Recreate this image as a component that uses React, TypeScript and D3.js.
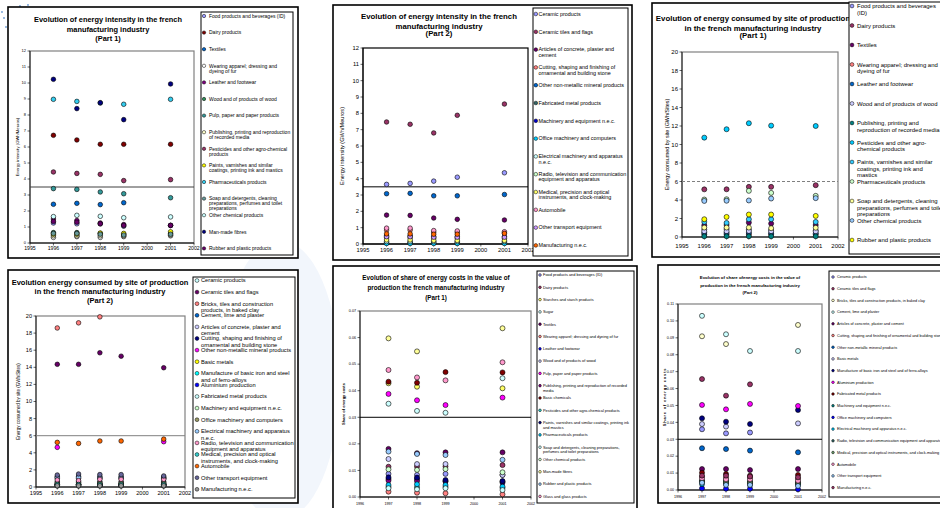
import React from "react";
import * as d3 from "d3";

// ---------------- DATA ----------------
const yearsA = [1996, 1997, 1998, 1999, 2001];
const yearsB = [1997, 1998, 1999, 2001];

const p1Names = [
  "Food products and beverages (ID)",
  "Dairy products",
  "Textiles",
  "Wearing apparel; dressing and dyeing of fur",
  "Leather and footwear",
  "Wood and of products of wood",
  "Pulp, paper and paper products",
  "Publishing, printing and reproduction of recorded media",
  "Pesticides and other agro-chemical products",
  "Paints, varnishes and similar coatings, printing ink and mastics",
  "Pharmaceuticals products",
  "Soap and detergents, cleaning preparations, perfumes and toilet preparations",
  "Other chemical products",
  "Man-made fibres",
  "Rubber and plastic products",
];
const p1Values: (number | null)[][] = [
  [1.25, 1.2, 1.2, 1.05, 1.1],
  [6.73, 6.44, 6.17, 6.17, 6.17],
  [2.42, 2.48, 2.4, 2.52, null],
  [0.35, 0.4, 0.35, 0.4, 0.45],
  [1.5, 1.4, 1.25, 1.15, 1.1],
  [0.65, 0.65, 0.6, 0.55, 0.6],
  [3.4, 3.35, 3.19, 3.08, 2.83],
  [0.45, 0.45, 0.45, 0.45, 0.5],
  [4.44, 4.35, 4.29, 3.9, 3.96],
  [0.55, 0.55, 0.62, 0.6, 0.7],
  [8.98, 8.85, 8.75, 8.67, 8.98],
  [0.6, 0.6, 0.55, 0.5, 0.55],
  [1.65, 1.73, 1.67, 1.58, 1.63],
  [10.23, 8.4, 8.77, 7.71, 9.94],
  [1.35, 1.3, 1.2, 1.1, 1.1],
];
const p1Colors = ["#9999FF", "#800000", "#0066CC", "#FFFFFF", "#800080", "#2E8B57", "#339999", "#FFFFCC", "#993366", "#FFFF00", "#33CCEE", "#669999", "#CCFFFF", "#000080", "#660066"];

const p2Names = [
  "Ceramic products",
  "Ceramic tiles and flags",
  "Articles of concrete, plaster and cement",
  "Cutting, shaping and finishing of ornamental and building stone",
  "Other non-metallic mineral products",
  "Fabricated metal products",
  "Machinery and equipment n.e.c.",
  "Office machinery and computers",
  "Electrical machinery and apparatus n.e.c.",
  "Radio, television and communication equipment and apparatus",
  "Medical, precision and optical instruments, and clock-making",
  "Automobile",
  "Other transport equipment",
  "Manufacturing n.e.c.",
];
const p2Values: (number | null)[][] = [
  [3.65, 3.71, 3.85, 4.09, 4.36],
  [7.47, 7.33, 6.8, 7.88, 8.57],
  [1.77, 1.75, 1.59, 1.51, 1.47],
  [0.85, 0.85, 0.72, 0.72, 0.68],
  [3.08, 3.1, 2.95, 2.95, 3.03],
  [0.1, 0.1, 0.1, 0.1, 0.1],
  [0.5, 0.5, 0.45, 0.45, 0.45],
  [0.03, 0.03, 0.03, 0.03, 0.03],
  [0.15, 0.15, 0.15, 0.15, 0.15],
  [0.38, 0.38, 0.35, 0.35, 0.35],
  [0.25, 0.25, 0.22, 0.22, 0.22],
  [0.97, 0.97, 0.82, 0.8, 0.75],
  [0.45, 0.45, 0.42, 0.42, 0.42],
  [0.62, 0.62, 0.6, 0.6, 0.65],
];
const p2Colors = ["#9999FF", "#993366", "#660066", "#FF8080", "#0066CC", "#336666", "#0000CC", "#00CCFF", "#CCFFFF", "#CCFFCC", "#FFFF66", "#FF99CC", "#CC99FF", "#FF6600"];

const p3Names = [
  "Food products and beverages (ID)",
  "Dairy products",
  "Textiles",
  "Wearing apparel; dressing and dyeing of fur",
  "Leather and footwear",
  "Wood and of products of wood",
  "Publishing, printing and reproduction of recorded media",
  "Pesticides and other agro-chemical products",
  "Paints, varnishes and similar coatings, printing ink and mastics",
  "Pharmaceuticals products",
  "Soap and detergents, cleaning preparations, perfumes and toilet preparations",
  "Other chemical products",
  "Rubber and plastic products",
];
const p3Values: (number | null)[][] = [
  [0.8, 0.85, 0.8, 0.75, 0.7],
  [5.15, 5.16, 5.42, 5.42, 5.6],
  [1.27, 1.3, 1.56, 1.45, 1.3],
  [0.3, 0.3, 0.3, 0.3, 0.3],
  [0.45, 0.45, 0.45, 0.4, 0.4],
  [0.62, 0.62, 0.65, 0.62, 0.6],
  [0.08, 0.08, 0.08, 0.08, 0.08],
  [10.74, 11.65, 12.3, 12.04, 12.0],
  [1.63, 1.52, 1.92, 1.92, 1.63],
  [4.05, 4.08, 4.99, 4.77, 4.45],
  [1.02, 1.02, 1.02, 0.95, 1.0],
  [3.9, 3.92, 3.95, 4.16, 4.2],
  [1.92, 2.17, 2.43, 2.43, 2.28],
];
const p3Colors = ["#9999FF", "#993366", "#660066", "#FF8080", "#0066CC", "#CCCCFF", "#008080", "#00CCFF", "#33CCFF", "#CCFFCC", "#FFFF99", "#99CCFF", "#FFFF00"];

const part2Names = [
  "Ceramic products",
  "Ceramic tiles and flags",
  "Bricks, tiles and construction products, in baked clay",
  "Cement, lime and plaster",
  "Articles of concrete, plaster and cement",
  "Cutting, shaping and finishing of ornamental and building stone",
  "Other non-metallic mineral products",
  "Basic metals",
  "Manufacture of basic iron and steel and of ferro-alloys",
  "Aluminium production",
  "Fabricated metal products",
  "Machinery and equipment n.e.c.",
  "Office machinery and computers",
  "Electrical machinery and apparatus n.e.c.",
  "Radio, television and communication equipment and apparatus",
  "Medical, precision and optical instruments, and clock-making",
  "Automobile",
  "Other transport equipment",
  "Manufacturing n.e.c.",
];
const p4Values: (number | null)[][] = [
  [0.3, 0.3, 0.3, 0.3, 0.3],
  [14.35, 14.35, 15.7, 15.3, 13.95],
  [18.6, 19.2, 19.9, null, null],
  [1.2, 1.25, 1.2, 1.2, 1.15],
  [1.0, 1.0, 1.0, 1.0, 1.0],
  [0.6, 0.6, 0.6, 0.6, 0.6],
  [4.64, null, null, null, 5.3],
  [0.35, 0.35, 0.35, 0.35, 0.35],
  [0.25, 0.25, 0.25, 0.25, 0.25],
  [0.2, 0.2, 0.2, 0.2, 0.2],
  [0.12, 0.12, 0.12, 0.12, 0.12],
  [0.3, 0.3, 0.3, 0.3, 0.3],
  [0.5, 0.5, 0.5, 0.5, 0.5],
  [1.13, 1.13, 1.1, 1.1, 1.05],
  [0.82, 0.74, 0.9, 0.9, 0.9],
  [0.3, 0.3, 0.3, 0.3, 0.3],
  [5.22, 5.1, 5.38, 5.38, 5.6],
  [1.4, 1.52, 1.45, 1.45, 1.29],
  [0.15, 0.15, 0.15, 0.15, 0.15],
];
const p4Colors = ["#CCFFFF", "#660066", "#FF8080", "#0066CC", "#CCCCFF", "#000080", "#FF00FF", "#FFFF00", "#00FFFF", "#0000FF", "#CCFFFF", "#CCFFCC", "#999966", "#99CCFF", "#FF99CC", "#33CCCC", "#FF6600", "#666699", "#969696"];

const p5Names = [
  "Food products and beverages (ID)",
  "Dairy products",
  "Starches and starch products",
  "Sugar",
  "Textiles",
  "Wearing apparel; dressing and dyeing of fur",
  "Leather and footwear",
  "Wood and of products of wood",
  "Pulp, paper and paper products",
  "Publishing, printing and reproduction of recorded media",
  "Basic chemicals",
  "Pesticides and other agro-chemical products",
  "Paints, varnishes and similar coatings, printing ink and mastics",
  "Pharmaceuticals products",
  "Soap and detergents, cleaning preparations, perfumes and toilet preparations",
  "Other chemical products",
  "Man-made fibres",
  "Rubber and plastic products",
  "Glass and glass products",
];
const p5Values: (number | null)[][] = [
  [0.0087, 0.0083, 0.0087, 0.0083],
  [0.0114, 0.0115, 0.0115, 0.012],
  [0.0428, 0.0415, null, 0.0409],
  [0.0351, 0.0324, 0.0317, 0.0447],
  [0.0181, 0.0165, 0.0168, 0.0168],
  [0.002, 0.0016, 0.0014, 0.001],
  [0.0068, 0.0068, 0.0058, 0.0054],
  [0.0143, 0.0124, 0.0124, 0.0083],
  [0.0388, 0.0364, 0.0346, 0.0374],
  [0.0062, 0.006, 0.006, 0.0058],
  [0.0434, 0.043, 0.047, 0.0469],
  [0.0038, 0.0037, 0.0038, 0.0034],
  [0.0074, 0.0073, 0.0064, 0.006],
  [0.0045, 0.0048, 0.0045, 0.0039],
  [0.0033, 0.0029, 0.0033, 0.0026],
  [0.0104, 0.0102, 0.0105, 0.0093],
  [0.0597, 0.0548, null, 0.0635],
  [0.0171, 0.0162, 0.0158, 0.014],
  [0.0478, 0.045, 0.0439, 0.0507],
];
const p5Colors = ["#9999FF", "#993366", "#FFFF66", "#CCFFFF", "#660066", "#FF8080", "#0000FF", "#CCCCFF", "#FF00FF", "#800080", "#800000", "#33CCCC", "#000080", "#00CCFF", "#CCFFFF", "#CCFFCC", "#FFFF99", "#99CCFF", "#FF99CC"];

const p6Values: (number | null)[][] = [
  [0.0359, 0.0335, 0.034, null],
  [0.0656, 0.0558, 0.0625, null],
  [0.0909, 0.0863, null, 0.0976],
  [0.103, 0.0921, 0.0822, 0.0822],
  [0.0124, 0.0124, 0.0118, 0.0124],
  [0.0078, 0.0072, 0.0072, 0.0066],
  [0.0247, 0.0242, 0.0233, 0.0223],
  [0.039, 0.0375, null, 0.0394],
  [0.0424, 0.0404, 0.039, 0.0473],
  [0.0503, 0.0477, 0.0509, 0.0497],
  [0.0102, 0.0095, 0.0085, 0.0089],
  [0.0055, 0.0055, 0.005, 0.0045],
  [0.001, 0.0008, 0.0008, 0.0004],
  [0.0035, 0.0035, 0.003, 0.003],
  [0.0048, 0.0045, 0.0042, 0.004],
  [0.0052, 0.005, 0.0046, 0.0043],
  [0.0069, 0.0063, 0.0063, 0.0055],
  [0.0043, 0.003, 0.003, 0.0024],
  [0.0085, 0.0085, 0.008, 0.0075],
];
const p6Colors = ["#9999FF", "#993366", "#FFFFCC", "#CCFFFF", "#660066", "#FF8080", "#0066CC", "#CCCCFF", "#000080", "#FF00FF", "#800000", "#008080", "#0000FF", "#00CCFF", "#336666", "#669966", "#FF99CC", "#99CCFF", "#993366"];

const intensityTicks = d3.range(0, 13, 1);
const siteTicks = d3.range(0, 21, 2);
const share1Ticks = d3.range(0, 0.0701, 0.01);
const share2Ticks = d3.range(0, 0.1101, 0.01);
const yearTicksA = d3.range(1995, 2003, 1);
const yearTicksB = d3.range(1996, 2003, 1);

// ---------------- HELPERS ----------------
const FONT = '"Liberation Sans", Arial, Helvetica, sans-serif';
let ctx: CanvasRenderingContext2D | null = null;
function measure(s: string, size: number, bold = false) {
  if (!ctx) ctx = document.createElement("canvas").getContext("2d");
  if (!ctx) return s.length * size * 0.5;
  ctx.font = `${bold ? "bold " : ""}${size}px ${FONT}`;
  return ctx.measureText(s).width;
}
function wrap(s: string, size: number, width: number) {
  const toks: { t: string; sp: boolean }[] = [];
  s.split(" ").forEach((w, wi) => {
    const parts = w.split(/(?<=-)/);
    parts.forEach((p, pi) => toks.push({ t: p, sp: pi === 0 && wi > 0 }));
  });
  const lines: string[] = [];
  let cur = "";
  for (const tk of toks) {
    const t = cur ? cur + (tk.sp ? " " : "") + tk.t : tk.t;
    if (cur && measure(t, size) > width) {
      lines.push(cur);
      cur = tk.t;
    } else cur = t;
  }
  if (cur) lines.push(cur);
  return lines;
}

type Cfg = {
  box: [number, number, number, number];
  plot: [number, number, number, number];
  xDomain: [number, number];
  xTicks: number[];
  yDomain: [number, number];
  yTicks: number[];
  yFmt: (v: number) => string;
  ref: number;
  refDashed?: boolean;
  refColor: string;
  title: string[];
  titleX: number;
  titleY: number[];
  titleSize: number;
  yLabel: string;
  yLabelX: number;
  yLabelSize: number;
  yLabelBold?: boolean;
  yLabelSpacing?: number;
  yTickSize: number;
  xTickSize: number;
  xLabelY: number;
  legend: [number, number, number, number];
  legStart: number;
  legStep: number;
  legSize: number;
  legWrapEm: number;
  legLine: number;
  legMarkerX: number;
  legTextX: number;
  markerR: number;
  frameColor: string;
  names: string[];
  values: (number | null)[][];
  colors: string[];
  years: number[];
};

function Panel({ c }: { c: Cfg }) {
  const [px, py, pw, ph] = c.plot;
  const x = d3.scaleLinear().domain(c.xDomain).range([px, px + pw]);
  const y = d3.scaleLinear().domain(c.yDomain).range([py + ph, py]);
  const [lx, ly, lw, lh] = c.legend;
  const yMid = py + ph / 2;
  return (
    <g fontFamily={FONT}>
      <rect x={c.box[0]} y={c.box[1]} width={c.box[2]} height={c.box[3]} fill="white" stroke="#000" strokeWidth={1.6} />
      {c.title.map((t, i) => (
        <text key={i} x={c.titleX} y={c.titleY[i]} fontSize={c.titleSize} fontWeight="bold" textAnchor="middle" fill="#000">
          {t}
        </text>
      ))}
      <rect x={px} y={py} width={pw} height={ph} fill="white" stroke={c.frameColor} strokeWidth={1.2} />
      <line x1={px} x2={px} y1={py} y2={py + ph} stroke="#000" strokeWidth={0.8} />
      {c.yTicks.map((t, i) => (
        <g key={i}>
          <line x1={px - 2.5} x2={px} y1={y(t)} y2={y(t)} stroke="#000" strokeWidth={0.6} />
          <text x={px - 4} y={y(t) + c.yTickSize * 0.35} fontSize={c.yTickSize} textAnchor="end" fill="#000">
            {c.yFmt(t)}
          </text>
        </g>
      ))}
      <line x1={px} x2={px + pw} y1={py + ph} y2={py + ph} stroke="#000" strokeWidth={1} />
      {c.xTicks.map((t, i) => (
        <g key={i}>
          <line x1={x(t)} x2={x(t)} y1={py + ph} y2={py + ph + 2.5} stroke="#000" strokeWidth={0.6} />
          <text x={x(t)} y={c.xLabelY} fontSize={c.xTickSize} textAnchor="middle" fill="#000">
            {t}
          </text>
        </g>
      ))}
      <text
        transform={`translate(${c.yLabelX},${yMid}) rotate(-90)`}
        fontSize={c.yLabelSize}
        fontWeight={c.yLabelBold ? "bold" : "normal"}
        letterSpacing={c.yLabelSpacing || 0}
        textAnchor="middle"
        fill="#000"
      >
        {c.yLabel}
      </text>
      <line
        x1={px}
        x2={px + pw}
        y1={y(c.ref)}
        y2={y(c.ref)}
        stroke={c.refColor}
        strokeWidth={c.refDashed ? 1.2 : 1}
        strokeDasharray={c.refDashed ? "3,2" : undefined}
      />
      {c.values.map((vals, si) =>
        vals.map((v, yi) =>
          v == null ? null : (
            <circle key={`${si}-${yi}`} cx={x(c.years[yi])} cy={y(v)} r={c.markerR} fill={c.colors[si]} stroke="#000" strokeWidth={0.6} />
          )
        )
      )}
      <rect x={lx} y={ly} width={lw} height={lh} fill="white" stroke="#000" strokeWidth={1} />
      {c.names.map((n, i) => {
        const cy = c.legStart + i * c.legStep;
        const lines = wrap(n, c.legSize, c.legWrapEm * c.legSize);
        return (
          <g key={i}>
            <circle cx={c.legMarkerX} cy={cy} r={Math.max(1.3, Math.min(1.9, c.legSize * 0.34))} fill={c.colors[i]} stroke="#000" strokeWidth={0.5} />
            {lines.map((l, j) => (
              <text key={j} x={c.legTextX} y={cy + c.legSize * 0.35 + j * c.legSize * c.legLine} fontSize={c.legSize} fill="#000">
                {l}
              </text>
            ))}
          </g>
        );
      })}
    </g>
  );
}

const f1 = (v: number) => d3.format("d")(v);
const f2 = (v: number) => d3.format(".2f")(v);

const panels: Cfg[] = [
  {
    box: [8, 7, 290, 251], plot: [30, 51, 164, 192], xDomain: [1995, 2002], xTicks: yearTicksA,
    yDomain: [0, 12], yTicks: intensityTicks, yFmt: f1, ref: 3.5, refColor: "#404040",
    title: ["Evolution of energy intensity in the french", "manufacturing industry", "(Part 1)"],
    titleX: 108, titleY: [21.5, 31.5, 40.5], titleSize: 7.4,
    yLabel: "Energy intensity (GWh/Meuros)", yLabelX: 18.5, yLabelSize: 4.2,
    yTickSize: 4, xTickSize: 5.2, xLabelY: 250,
    legend: [201, 12, 92, 243], legStart: 16, legStep: 16.6, legSize: 5, legWrapEm: 16.6, legLine: 1.0, legMarkerX: 204, legTextX: 209,
    markerR: 2.3, frameColor: "#808080", names: p1Names, values: p1Values, colors: p1Colors, years: yearsA,
  },
  {
    box: [333, 5, 299, 255], plot: [363, 48, 165, 196], xDomain: [1995, 2002], xTicks: yearTicksA,
    yDomain: [0, 12], yTicks: intensityTicks, yFmt: f1, ref: 3.5, refColor: "#000",
    title: ["Evolution of energy intensity in the french", "manufacturing industry", "(Part 2)"],
    titleX: 439, titleY: [18.5, 28.5, 36], titleSize: 7.8,
    yLabel: "Energy intensity (GWh/Meuros)", yLabelX: 344, yLabelSize: 5.6,
    yTickSize: 5.8, xTickSize: 5.8, xLabelY: 251.5,
    legend: [533, 8, 95, 248], legStart: 14, legStep: 17.8, legSize: 5.4, legWrapEm: 16.6, legLine: 0.98, legMarkerX: 535.8, legTextX: 538.5,
    markerR: 2.3, frameColor: "#000", names: p2Names, values: p2Values, colors: p2Colors, years: yearsA,
  },
  {
    box: [652, 3, 300, 254], plot: [682, 52, 156, 185], xDomain: [1995, 2002], xTicks: yearTicksA,
    yDomain: [0, 20], yTicks: siteTicks, yFmt: f1, ref: 6, refDashed: true, refColor: "#808080",
    title: ["Evolution of energy consumed by site of production", "in the french manufacturing industry", "(Part 1)"],
    titleX: 753, titleY: [20.5, 30.5, 38], titleSize: 7.85,
    yLabel: "Energy consumed by site (GWh/Sites)", yLabelX: 669, yLabelSize: 5.4,
    yTickSize: 6, xTickSize: 6, xLabelY: 247.5,
    legend: [849, 2, 100, 252], legStart: 6, legStep: 19.5, legSize: 5.95, legWrapEm: 14.68, legLine: 1.08, legMarkerX: 852, legTextX: 857,
    markerR: 2.5, frameColor: "#808080", names: p3Names, values: p3Values, colors: p3Colors, years: yearsA,
  },
  {
    box: [8, 270, 290, 233], plot: [36, 316, 149, 171], xDomain: [1995, 2002], xTicks: yearTicksA,
    yDomain: [0, 20], yTicks: siteTicks, yFmt: f1, ref: 6, refColor: "#808080",
    title: ["Evolution energy consumed by site of production", "in the french manufacturing industry", "(Part 2)"],
    titleX: 100, titleY: [284.5, 294, 302.5], titleSize: 7.5,
    yLabel: "Energy consumed by site (GWh/Sites)", yLabelX: 20, yLabelSize: 4.5,
    yTickSize: 5.6, xTickSize: 5.6, xLabelY: 495,
    legend: [193, 277, 102, 221], legStart: 280.5, legStep: 11.6, legSize: 5.7, legWrapEm: 16.6, legLine: 1.12, legMarkerX: 197, legTextX: 201,
    markerR: 2.3, frameColor: "#808080", names: part2Names, values: p4Values, colors: p4Colors, years: yearsA,
  },
  {
    box: [333, 266, 304, 250], plot: [360, 311, 171, 186], xDomain: [1996, 2002], xTicks: yearTicksB,
    yDomain: [0, 0.07], yTicks: share1Ticks, yFmt: f2, ref: 0.03, refColor: "#000",
    title: ["Evolution of share of energy costs in the value of", "production the french manufacturing industry", "(Part 1)"],
    titleX: 436, titleY: [280, 290, 300], titleSize: 6.3,
    yLabel: "Share of energy costs", yLabelX: 345, yLabelSize: 4, yLabelBold: true,
    yTickSize: 3.7, xTickSize: 3.7, xLabelY: 504.5,
    legend: [537, 271, 97, 232], legStart: 275, legStep: 12.3, legSize: 3.9, legWrapEm: 23, legLine: 1.2, legMarkerX: 540, legTextX: 543,
    markerR: 2.5, frameColor: "#808080", names: p5Names, values: p5Values, colors: p5Colors, years: yearsB,
  },
  {
    box: [658, 265, 290, 238], plot: [678, 304, 144, 186], xDomain: [1996, 2002], xTicks: yearTicksB,
    yDomain: [0, 0.11], yTicks: share2Ticks, yFmt: f2, ref: 0.03, refColor: "#000",
    title: ["Evolution of share ofenergy costs in the value of", "production in the french manufacturing industry", "(Part 2)"],
    titleX: 750, titleY: [279, 286.5, 294], titleSize: 4.35,
    yLabel: "Share of energy costs", yLabelX: 666, yLabelSize: 4, yLabelBold: true, yLabelSpacing: 0.8,
    yTickSize: 3.7, xTickSize: 3.7, xLabelY: 497.5,
    legend: [829, 271, 120, 226], legStart: 277, legStep: 11.7, legSize: 3.8, legWrapEm: 40, legLine: 1.1, legMarkerX: 833, legTextX: 837,
    markerR: 2.5, frameColor: "#808080", names: part2Names, values: p6Values, colors: p6Colors, years: yearsB,
  },
];

const decoDots = [
  [4, 18], [9, 22], [14, 25], [6, 27], [20, 6], [24, 9], [28, 5], [2, 12],
];

export default function App() {
  return (
    <svg width={940} height={508} style={{ position: "fixed", left: 0, top: 0, display: "block" }}>
      <rect x={0} y={0} width={940} height={508} fill="white" />
      <ellipse cx={280} cy={380} rx={60} ry={140} fill="#F2F6FC" />
      {decoDots.map((d, i) => (
        <circle key={i} cx={d[0]} cy={d[1]} r={0.9} fill="#6D9BD3" />
      ))}
      {panels.map((c, i) => (
        <Panel key={i} c={c} />
      ))}
    </svg>
  );
}
